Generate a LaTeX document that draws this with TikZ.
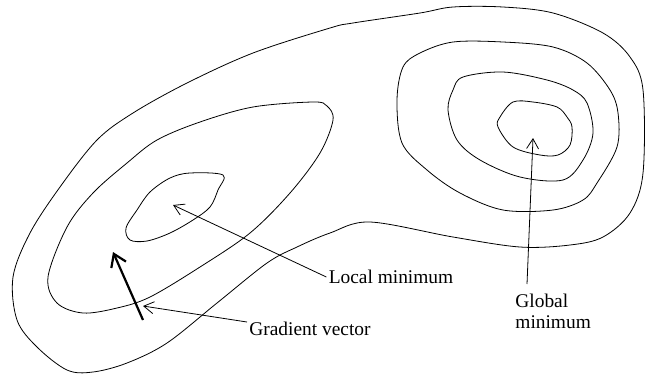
\documentclass[tikz,border=0pt]{standalone}
\usepackage{fontspec}
\setmainfont{Liberation Serif}
\usetikzlibrary{arrows.meta, positioning, calc}

\begin{document}
\begin{tikzpicture}[x=0.5pt, y=-0.5pt, font=\fontsize{9.7}{10.2}\selectfont,
    contour/.style={line width=0.4pt, smooth cycle, tension=0.55},
    pointer/.style={line width=0.4pt, -{Straight Barb[length=5pt, width=6pt]}},
    gradarrow/.style={line width=1.1pt, -{Straight Barb[length=6pt, width=8pt]}},
    label/.style={inner sep=1pt, align=left}]
    \useasboundingbox (0,0) rectangle (646,376);
    % Outer level set
    \draw plot[contour] coordinates {(330,28) (253,53) (187,83) (133,113) (97,140) (60,187) (30,233) (13,277) (17,320) (37,347) (67,370) (93,372) (127,363) (167,343) (217,303) (267,263) (297,247) (330,233) (370,222) (453,237) (520,247) (570,245) (603,237) (630,213) (643,173) (643,90) (630,57) (603,33) (553,13) (503,7) (453,7) (420,13) (353,23)};
    % Left basin
    \draw plot[contour] coordinates {(313,102) (253,107) (200,122) (157,140) (127,163) (93,193) (67,227) (48,277) (57,303) (83,313) (117,308) (150,297) (200,267) (250,233) (290,193) (320,153) (333,120) (327,106)};
    \draw plot[contour] coordinates {(223,175) (190,173) (170,178) (150,192) (137,210) (126,228) (130,240) (147,241) (170,233) (193,220) (210,207) (218,190)};
    % Right basin
    \draw plot[contour] coordinates {(453,42) (420,53) (403,67) (397,100) (402,143) (427,170) (460,193) (503,210) (553,210) (583,200) (597,183) (617,147) (618,113) (610,90) (587,63) (553,47) (503,42)};
    \draw plot[contour] coordinates {(463,77) (453,90) (448,110) (457,140) (480,160) (520,177) (563,180) (583,160) (593,133) (587,103) (573,90) (547,80) (503,72)};
    \draw plot[contour] coordinates {(513,102) (500,117) (498,127) (513,147) (540,155) (558,155) (570,145) (572,127) (567,117) (557,107) (533,102)};

    % Labels
    \node[label] (locmin) at (391,277) {Local minimum};
    \node[label] (gradvec) at (310,329) {Gradient vector};
    \node[label, anchor=north west] (globmin) at (513,292) {Global\\minimum};
    \coordinate (locpt) at (173,205);
    \coordinate (gradpt) at (143,306);
    \coordinate (globpt) at (533,138);
    \coordinate (gradtail) at (143,320);
    \coordinate (gradtip) at (113,252);

    \draw[pointer] (locmin.west) -- (locpt);
    \draw[pointer] ([yshift=3.5pt]gradvec.west) -- (gradpt);
    \draw[pointer] ([xshift=7pt, yshift=4pt]globmin.north west) -- (globpt);
    \draw[gradarrow] (gradtail) -- (gradtip);
\end{tikzpicture}
\end{document}
